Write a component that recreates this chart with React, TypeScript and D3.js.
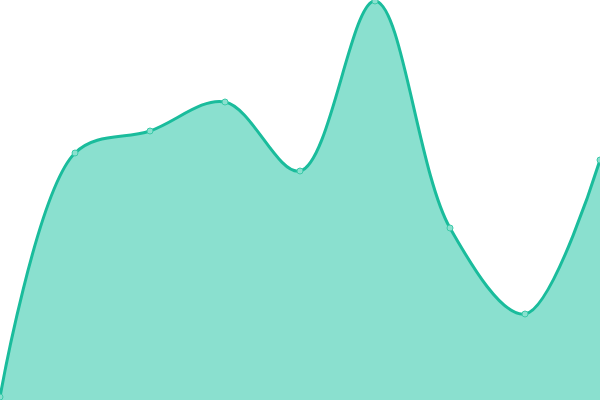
import React from 'react';
import * as d3 from 'd3';

const labels = ['A', 'B', 'C', 'D', 'E', 'F', 'G', 'H', 'I'];
const values = [3, 247, 269, 298, 229, 399, 172, 86, 240];

const width = 600;
const height = 400;

const App: React.FC = () => {
  const x = d3.scalePoint<string>().domain(labels).range([0, width]);
  const y = d3.scaleLinear().domain([0, 400]).range([height, 0]);

  const curve = d3.curveCatmullRom.alpha(0.5);

  const area = d3.area<number>()
    .x((_, i) => x(labels[i]) || 0)
    .y0(height)
    .y1(d => y(d))
    .curve(curve);

  const line = d3.line<number>()
    .x((_, i) => x(labels[i]) || 0)
    .y(d => y(d))
    .curve(curve);

  return (
    <svg
      width={width}
      height={height}
      style={{ position: 'absolute', left: 0, top: 0, background: '#fff' }}
    >
      <path d={area(values) || ''} fill="#8ae0cf" />
      <path d={line(values) || ''} fill="none" stroke="#1abc9c" strokeWidth={3} />
      {values.map((v, i) => (
        <circle
          key={labels[i]}
          cx={x(labels[i]) || 0}
          cy={y(v)}
          r={3}
          fill="#8ae0cf"
          stroke="#3ccaa9"
          strokeWidth={1}
        />
      ))}
    </svg>
  );
};

export default App;
